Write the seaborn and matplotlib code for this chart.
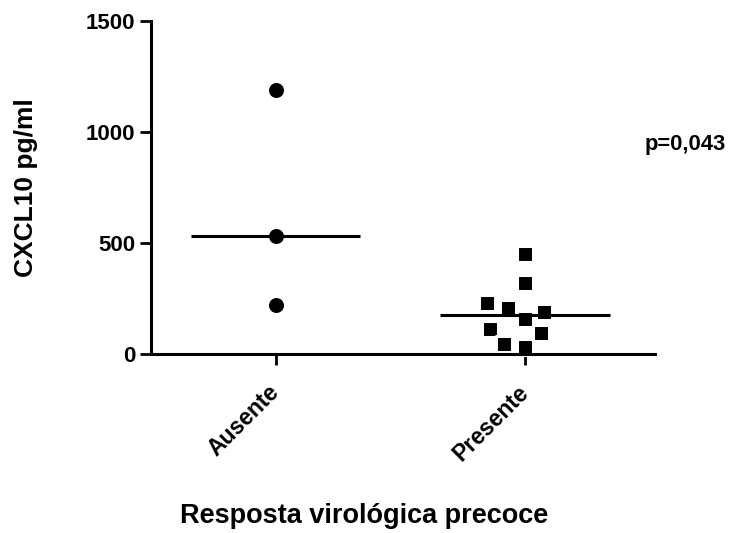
import numpy as np
import pandas as pd
import matplotlib
matplotlib.use("Agg")
import matplotlib.pyplot as plt
import seaborn as sns

# Concentração de CXCL10 (pg/ml) por grupo de resposta virológica precoce
categories = ["Ausente", "Presente"]
ausente_values = [1190, 533, 222]
presente_values = [450, 321, 228, 209, 191, 156, 111, 93, 44, 33]
y_ticks = [0, 500, 1000, 1500]
y_label = "CXCL10 pg/ml"
x_label = "Resposta virológica precoce"
p_label = "p=0,043"

sns.set_theme(style="ticks")
plt.rcParams["font.family"] = ["Liberation Sans", "DejaVu Sans"]
plt.rcParams["font.weight"] = "bold"
plt.rcParams["axes.labelweight"] = "bold"
plt.rcParams["text.color"] = "black"
plt.rcParams["axes.labelcolor"] = "black"
plt.rcParams["xtick.color"] = "black"
plt.rcParams["ytick.color"] = "black"

df = pd.DataFrame({
    "grupo": [categories[0]] * len(ausente_values) + [categories[1]] * len(presente_values),
    "valor": ausente_values + presente_values,
})

fig = plt.figure(figsize=(7.29, 5.33), dpi=100, facecolor="white")
ax = fig.add_axes([151 / 729, 1 - 354 / 533, 503.6 / 729, 333 / 533])
ax.set_facecolor("white")

# circles for the first group, squares (with a white rim for spacing) for the second
styles = {
    "Ausente": dict(marker="o", size=10.8, linewidth=0),
    "Presente": dict(marker="s", size=12.2, linewidth=2.2, edgecolor="white"),
}
for cat in categories:
    sns.swarmplot(data=df[df["grupo"] == cat], x="grupo", y="valor",
                  order=categories, color="black", ax=ax, clip_on=False,
                  zorder=1, **styles[cat])

# median line for each group
for i, cat in enumerate(categories):
    med = df.loc[df["grupo"] == cat, "valor"].median()
    ax.hlines(med, i - 0.34, i + 0.34, color="black", linewidth=2.2, zorder=3)

ax.set_xlim(-0.5, 1.52)
ax.set_ylim(0, 1500)
ax.set_yticks(y_ticks)
sns.despine(ax=ax)
for side in ["left", "bottom"]:
    ax.spines[side].set_linewidth(2.2)
    ax.spines[side].set_color("black")
    ax.spines[side].set_zorder(5)
ax.tick_params(axis="both", length=8, width=2, color="black",
               labelsize=16, labelcolor="black")
ax.tick_params(axis="x", pad=17, labelsize=16.5)
plt.setp(ax.get_xticklabels(), rotation=45, ha="right", va="center",
         rotation_mode="anchor", fontweight="bold")
plt.setp(ax.get_yticklabels(), fontweight="bold")

ax.set_xlabel(x_label, fontsize=19.5, fontweight="bold", va="baseline")
ax.xaxis.set_label_coords((364 - 151) / 503.6, (354 - 523) / 333)
ax.set_ylabel(y_label, fontsize=19, fontweight="bold", va="center")
ax.yaxis.set_label_coords((26 - 151) / 503.6, 0.5)

fig.text(685 / 729, 1 - 144 / 533, p_label, ha="center", va="center",
         fontsize=15.8, fontweight="bold", color="black")

fig.savefig("out.png", dpi=100, facecolor="white")
